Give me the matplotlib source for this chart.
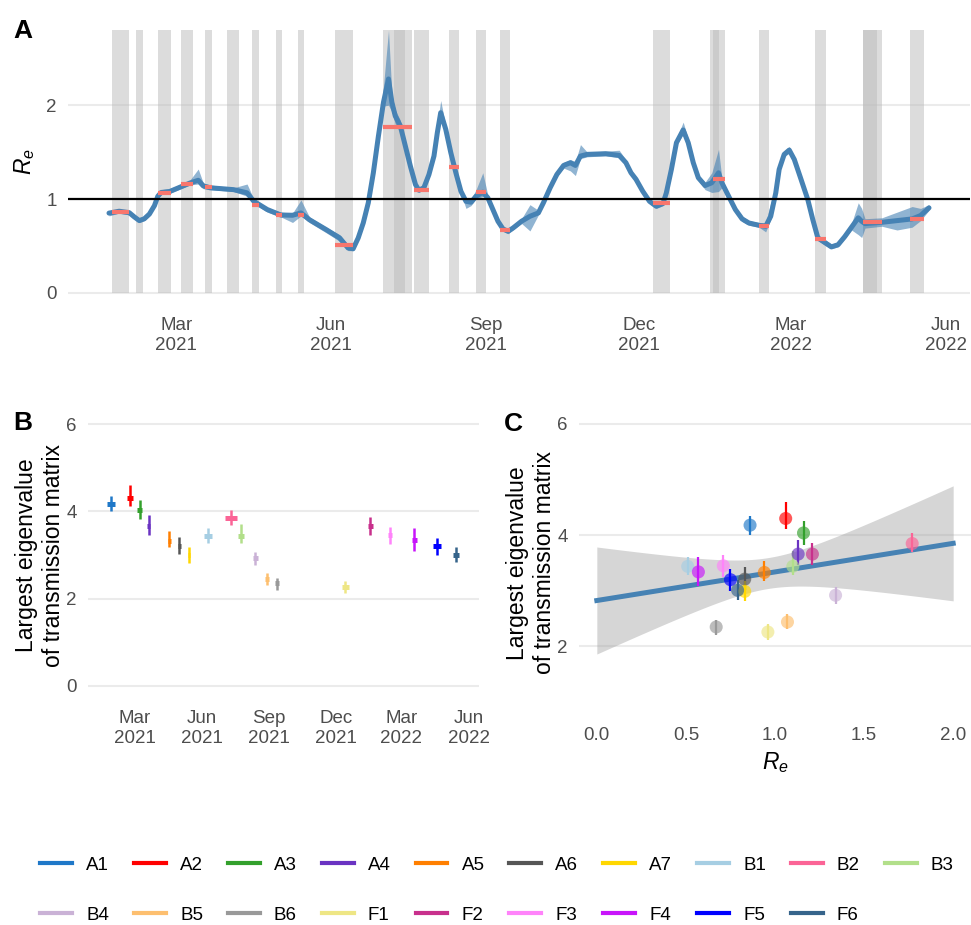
import matplotlib
matplotlib.use("Agg")
import matplotlib.pyplot as plt
import matplotlib.dates as mdates
from matplotlib.lines import Line2D
import numpy as np
import pandas as pd

plt.rcParams["font.family"] = ["Liberation Sans", "DejaVu Sans"]
plt.rcParams["mathtext.fontset"] = "custom"
plt.rcParams["mathtext.it"] = "Liberation Sans:italic"
plt.rcParams["mathtext.rm"] = "Liberation Sans"

# survey groups and their colours (cols25 palette)
groups = ["A1", "A2", "A3", "A4", "A5", "A6", "A7", "B1", "B2", "B3",
          "B4", "B5", "B6", "F1", "F2", "F3", "F4", "F5", "F6"]
colours = ["#1F78C8", "#FF0000", "#33A02C", "#6A33C2", "#FF7F00", "#565656",
           "#FFD700", "#A6CEE3", "#FB6496", "#B2DF8A", "#CAB2D6", "#FDBF6F",
           "#999999", "#EEE685", "#C8308C", "#FF83FA", "#C814FA", "#0000FF",
           "#36648B"]
period_start = ["2021-01-22", "2021-02-18", "2021-03-04", "2021-03-18", "2021-04-15",
                "2021-04-29", "2021-05-12", "2021-06-03", "2021-07-02", "2021-07-20",
                "2021-08-10", "2021-08-26", "2021-09-09", "2021-12-09", "2022-01-14",
                "2022-02-10", "2022-03-15", "2022-04-13", "2022-05-11"]
period_end = ["2021-02-01", "2021-02-26", "2021-03-11", "2021-03-22", "2021-04-19",
              "2021-05-03", "2021-05-16", "2021-06-14", "2021-07-19", "2021-07-29",
              "2021-08-16", "2021-09-01", "2021-09-15", "2021-12-19", "2022-01-21",
              "2022-02-16", "2022-03-22", "2022-04-24", "2022-05-19"]
# mean Re over each survey period
re_period = [0.86, 1.06, 1.16, 1.13, 0.94, 0.83, 0.83, 0.51, 1.77, 1.10,
             1.34, 1.07, 0.67, 0.96, 1.21, 0.71, 0.57, 0.75, 0.79]
# largest eigenvalue of the transmission matrix with 95% interval
eig_mid = [4.18, 4.30, 4.04, 3.66, 3.33, 3.21, 2.99, 3.44, 3.85, 3.44,
           2.92, 2.44, 2.35, 2.26, 3.66, 3.45, 3.34, 3.20, 3.01]
eig_lo = [4.01, 4.12, 3.82, 3.46, 3.18, 3.02, 2.82, 3.28, 3.69, 3.28,
          2.77, 2.31, 2.20, 2.12, 3.46, 3.25, 3.09, 3.00, 2.83]
eig_hi = [4.35, 4.60, 4.26, 3.92, 3.54, 3.42, 3.18, 3.61, 4.04, 3.72,
          3.07, 2.58, 2.47, 2.40, 3.86, 3.65, 3.61, 3.40, 3.19]

# shaded data-collection windows
shade_start = ["2021-01-22", "2021-02-05", "2021-02-18", "2021-03-04", "2021-03-18",
               "2021-03-31", "2021-04-15", "2021-04-29", "2021-05-12", "2021-06-03",
               "2021-07-02", "2021-07-08", "2021-07-20", "2021-08-10", "2021-08-26",
               "2021-09-09", "2021-12-09", "2022-01-12", "2022-01-14", "2022-02-10",
               "2022-03-15", "2022-04-13", "2022-04-13", "2022-05-11"]
shade_end = ["2021-02-01", "2021-02-09", "2021-02-26", "2021-03-11", "2021-03-22",
             "2021-04-07", "2021-04-19", "2021-05-03", "2021-05-16", "2021-06-14",
             "2021-07-15", "2021-07-19", "2021-07-29", "2021-08-16", "2021-09-01",
             "2021-09-15", "2021-12-19", "2022-01-17", "2022-01-21", "2022-02-16",
             "2022-03-22", "2022-04-21", "2022-04-24", "2022-05-19"]

# Re estimate over time: date, mean, lower and upper bound
re_dates = ["2021-01-20", "2021-01-26", "2021-02-01", "2021-02-04", "2021-02-07",
            "2021-02-10", "2021-02-13", "2021-02-16", "2021-02-18", "2021-02-20",
            "2021-02-25", "2021-03-05", "2021-03-09", "2021-03-14", "2021-03-17",
            "2021-03-21", "2021-04-04", "2021-04-12", "2021-04-16", "2021-04-24",
            "2021-05-02", "2021-05-09", "2021-05-14", "2021-05-19", "2021-05-29",
            "2021-06-06", "2021-06-11", "2021-06-14", "2021-06-17", "2021-06-20",
            "2021-06-23", "2021-06-26", "2021-06-29", "2021-07-02", "2021-07-05",
            "2021-07-07", "2021-07-09", "2021-07-12", "2021-07-15", "2021-07-18",
            "2021-07-21", "2021-07-23", "2021-07-26", "2021-07-29", "2021-08-01",
            "2021-08-03", "2021-08-05", "2021-08-08", "2021-08-11", "2021-08-14",
            "2021-08-17", "2021-08-20", "2021-08-23", "2021-08-26", "2021-08-30",
            "2021-09-02", "2021-09-05", "2021-09-08", "2021-09-11", "2021-09-14",
            "2021-09-17", "2021-09-22", "2021-09-27", "2021-10-02", "2021-10-05",
            "2021-10-09", "2021-10-13", "2021-10-17", "2021-10-21", "2021-10-24",
            "2021-10-27", "2021-10-31", "2021-11-11", "2021-11-19", "2021-11-23",
            "2021-11-26", "2021-11-29", "2021-12-03", "2021-12-07", "2021-12-11",
            "2021-12-15", "2021-12-17", "2021-12-20", "2021-12-23", "2021-12-27",
            "2021-12-30", "2022-01-02", "2022-01-05", "2022-01-09", "2022-01-13",
            "2022-01-17", "2022-01-19", "2022-01-23", "2022-01-27", "2022-01-31",
            "2022-02-04", "2022-02-10", "2022-02-14", "2022-02-17", "2022-02-20",
            "2022-02-22", "2022-02-25", "2022-02-28", "2022-03-03", "2022-03-07",
            "2022-03-11", "2022-03-14", "2022-03-17", "2022-03-21", "2022-03-25",
            "2022-03-29", "2022-04-02", "2022-04-06", "2022-04-10", "2022-04-12",
            "2022-04-14", "2022-04-24", "2022-05-03", "2022-05-12", "2022-05-17",
            "2022-05-22"]
re_mean = [0.85, 0.87, 0.855, 0.81, 0.77, 0.79, 0.84, 0.93, 1.03, 1.07,
           1.08, 1.14, 1.17, 1.20, 1.14, 1.12, 1.10, 1.066, 0.976, 0.888,
           0.83, 0.827, 0.852, 0.78, 0.674, 0.585, 0.478, 0.47, 0.585, 0.745,
           0.96, 1.28, 1.67, 2.03, 2.28, 2.03, 1.886, 1.78, 1.565, 1.35,
           1.155, 1.094, 1.12, 1.26, 1.458, 1.708, 1.92, 1.743, 1.494, 1.28,
           1.083, 0.976, 0.966, 1.03, 1.073, 1.013, 0.888, 0.763, 0.681, 0.656,
           0.692, 0.763, 0.816, 0.852, 0.96, 1.12, 1.262, 1.358, 1.387, 1.358,
           1.458, 1.476, 1.483, 1.465, 1.387, 1.28, 1.21, 1.083, 0.976, 0.923,
           0.952, 1.066, 1.315, 1.60, 1.736, 1.60, 1.387, 1.227, 1.144, 1.173,
           1.28, 1.173, 1.03, 0.888, 0.788, 0.745, 0.72, 0.709, 0.816, 1.066,
           1.315, 1.476, 1.522, 1.422, 1.21, 0.995, 0.78, 0.585, 0.538, 0.49,
           0.513, 0.60, 0.70, 0.80, 0.763, 0.738, 0.752, 0.77, 0.788, 0.824,
           0.906]
re_lo = [0.82, 0.85, 0.83, 0.79, 0.75, 0.77, 0.82, 0.91, 1.00, 1.05,
         1.06, 1.12, 1.15, 1.16, 1.11, 1.10, 1.08, 1.03, 0.95, 0.86,
         0.81, 0.75, 0.82, 0.75, 0.64, 0.55, 0.45, 0.45, 0.56, 0.72,
         0.93, 1.25, 1.63, 1.99, 2.00, 1.93, 1.80, 1.72, 1.53, 1.32,
         1.13, 1.07, 1.10, 1.23, 1.43, 1.68, 1.89, 1.71, 1.47, 1.25,
         1.06, 0.90, 0.93, 1.00, 1.03, 0.99, 0.86, 0.74, 0.66, 0.63,
         0.67, 0.74, 0.66, 0.83, 0.94, 1.10, 1.24, 1.33, 1.30, 1.25,
         1.43, 1.45, 1.46, 1.44, 1.36, 1.25, 1.18, 1.06, 0.95, 0.90,
         0.93, 1.04, 1.28, 1.57, 1.69, 1.57, 1.36, 1.20, 1.10, 1.07,
         1.08, 1.12, 1.00, 0.86, 0.76, 0.72, 0.70, 0.65, 0.78, 1.04,
         1.29, 1.45, 1.49, 1.40, 1.19, 0.97, 0.76, 0.56, 0.51, 0.47,
         0.49, 0.58, 0.67, 0.62, 0.59, 0.69, 0.71, 0.67, 0.70, 0.77,
         0.88]
re_hi = [0.87, 0.89, 0.88, 0.83, 0.79, 0.81, 0.86, 0.95, 1.06, 1.10,
         1.11, 1.17, 1.20, 1.32, 1.17, 1.15, 1.12, 1.16, 1.00, 0.91,
         0.86, 0.85, 0.99, 0.81, 0.70, 0.62, 0.51, 0.50, 0.61, 0.77,
         0.99, 1.31, 1.71, 2.20, 2.80, 2.12, 1.95, 1.84, 1.60, 1.38,
         1.18, 1.12, 1.15, 1.29, 1.49, 1.80, 2.05, 1.78, 1.52, 1.31,
         1.11, 1.00, 1.00, 1.10, 1.28, 1.04, 0.92, 0.79, 0.71, 0.68,
         0.72, 0.79, 0.94, 0.88, 0.99, 1.15, 1.29, 1.39, 1.42, 1.40,
         1.58, 1.50, 1.51, 1.52, 1.42, 1.31, 1.24, 1.11, 1.00, 0.95,
         0.98, 1.09, 1.35, 1.64, 1.82, 1.64, 1.41, 1.26, 1.18, 1.28,
         1.53, 1.22, 1.06, 0.92, 0.82, 0.77, 0.75, 0.75, 0.96, 1.10,
         1.35, 1.51, 1.56, 1.45, 1.24, 1.02, 0.81, 0.62, 0.57, 0.52,
         0.54, 0.62, 0.74, 0.96, 0.90, 0.79, 0.80, 0.86, 0.92, 0.90,
         0.94]

TICK_COL = "#4D4D4D"
GRID_COL = "#EBEBEB"
STEEL = "#4682B4"


def style_axis(ax):
    for s in ax.spines.values():
        s.set_visible(False)
    ax.tick_params(length=0, labelsize=13.5, labelcolor=TICK_COL, pad=8)
    ax.grid(axis="y", color=GRID_COL, lw=1.5, zorder=0)
    ax.grid(axis="x", visible=False)
    ax.set_axisbelow(True)


def date_axis(ax):
    ax.xaxis.set_major_locator(mdates.MonthLocator(bymonth=[3, 6, 9, 12]))
    ax.xaxis.set_major_formatter(mdates.DateFormatter("%b\n%Y"))


t = pd.to_datetime(re_dates)
ps = pd.to_datetime(period_start)
pe = pd.to_datetime(period_end)
mid = ps + (pe - ps) / 2
ss = pd.to_datetime(shade_start)
se = pd.to_datetime(shade_end)

x_min, x_max = t.min(), t.max()
x_pad = (x_max - x_min) * 0.05
xlim = (x_min - x_pad, x_max + x_pad)

fig = plt.figure(figsize=(9.71, 9.25), dpi=100)

# ---- A: Re over time
axA = fig.add_axes([68 / 971, 1 - 306 / 925, 902 / 971, 289 / 925])
style_axis(axA)
band_top = max(re_hi)
for a, b in zip(ss, se):
    axA.fill_between([a, b], 0, band_top, color="#BBBBBB", alpha=0.5, lw=0, zorder=1)
axA.fill_between(t, re_lo, re_hi, color=STEEL, alpha=0.6, lw=0, zorder=2)
axA.plot(t, re_mean, color=STEEL, lw=3.6, zorder=3,
         solid_joinstyle="round", solid_capstyle="round")
axA.axhline(1, color="black", lw=1.6, zorder=4)
axA.hlines(re_period, ps, pe, color="#F8766D", lw=3, zorder=5)
axA.set_xlim(xlim)
axA.set_ylim(-0.05 * band_top, band_top * 1.05)
axA.set_yticks([0, 1, 2])
date_axis(axA)
axA.set_ylabel("$R_e$", fontsize=16.5, labelpad=7)

# ---- B: eigenvalue over time
axB = fig.add_axes([88 / 971, 1 - 699 / 925, 391 / 971, 288 / 925])
style_axis(axB)
axB.vlines(mid, eig_lo, eig_hi, colors=colours, lw=1.8, zorder=3)
axB.hlines(eig_mid, ps, pe, colors=colours, lw=3.6, zorder=3)
axB.set_xlim(xlim)
axB.set_ylim(-0.3, 6.3)
axB.set_yticks([0, 2, 4, 6])
date_axis(axB)
axB.set_ylabel("Largest eigenvalue\nof transmission matrix", fontsize=16.5, labelpad=1)

# ---- C: eigenvalue against Re with linear fit
axC = fig.add_axes([579 / 971, 1 - 716 / 925, 392 / 971, 306 / 925])
style_axis(axC)
xr = np.array(re_period)
yr = np.array(eig_mid)
n = len(xr)
slope, icpt = np.polyfit(xr, yr, 1)
resid = yr - (icpt + slope * xr)
s = np.sqrt(np.sum(resid ** 2) / (n - 2))
sxx = np.sum((xr - xr.mean()) ** 2)
t_crit = 2.1098  # t quantile, 17 df
xs = np.linspace(0, 2, 100)
fit = icpt + slope * xs
half = t_crit * s * np.sqrt(1 / n + (xs - xr.mean()) ** 2 / sxx)
axC.fill_between(xs, fit - half, fit + half, color="#999999", alpha=0.4, lw=0, zorder=1)
axC.plot(xs, fit, color=STEEL, lw=3.6, zorder=2)
axC.vlines(xr, eig_lo, eig_hi, colors=colours, lw=1.6, zorder=3)
axC.scatter(xr, yr, s=9.4 ** 2, c=colours, alpha=0.65, edgecolors="none", zorder=4)
axC.set_xlim(-0.1, 2.1)
axC.set_ylim(0.75, 6.25)
axC.set_yticks([2, 4, 6])
axC.set_xticks([0, 0.5, 1, 1.5, 2])
axC.set_xticklabels(["0.0", "0.5", "1.0", "1.5", "2.0"])
axC.set_xlabel("$R_e$", fontsize=16.5, labelpad=4)
axC.set_ylabel("Largest eigenvalue\nof transmission matrix", fontsize=16.5, labelpad=1)

# panel tags
for tag, x, y in [("A", 13, 19), ("B", 13, 411), ("C", 504, 412)]:
    fig.text(x / 971, 1 - y / 925, tag, ha="left", va="top", fontsize=19, weight="bold")

# legend: two rows, filled row-wise
handles = [Line2D([], [], color=c, lw=3) for c in colours]
order = []
for i in range(9):
    order += [i, i + 10]
order.append(9)
fig.legend([handles[i] for i in order], [groups[i] for i in order],
           ncol=10, loc="center", bbox_to_anchor=(497 / 971, 1 - 890 / 925),
           frameon=False, fontsize=13.5, handlelength=1.7, handletextpad=0.75,
           columnspacing=1.33, labelspacing=1.75)

fig.savefig("out.png", dpi=100)
